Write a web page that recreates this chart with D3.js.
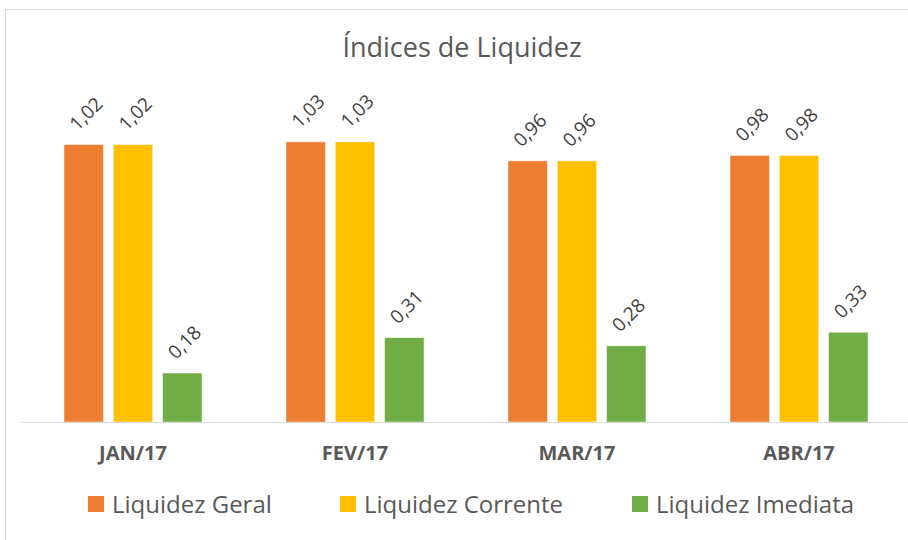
<!DOCTYPE html>
<head>
	<meta charset="UTF-8">
	<script src="https://d3js.org/d3.v7.min.js"></script>
	<title>Índices de Liquidez</title>
<style>
	body{ margin: 0; background-color: white; }
	svg{ display: block; }
	text{ font-family: 'Open Sans', sans-serif; }
</style>
</head>

<body>
	<svg width=908 height=540></svg>
</body>

<script>
	// Data
	var months = ["JAN/17", "FEV/17", "MAR/17", "ABR/17"];
	var series = ["Liquidez Geral", "Liquidez Corrente", "Liquidez Imediata"];
	var colors = ["#ed7d31", "#ffc000", "#70ad47"];
	var geral = [1.02, 1.03, 0.96, 0.98];
	var corrente = [1.02, 1.03, 0.96, 0.98];
	var imediata = [0.18, 0.31, 0.28, 0.33];
	var values = [geral, corrente, imediata];

	var svg = d3.select("svg");

	// Chart frame
	svg.append("path")
		.attr("d", "M5.5,540 V9.5 H908")
		.attr("fill", "none")
		.attr("stroke", "#d9d9d9");

	// Title
	svg.append("text")
		.attr("x", 462)
		.attr("y", 57)
		.attr("text-anchor", "middle")
		.attr("font-size", "27px")
		.attr("fill", "#595959")
		.text("Índices de Liquidez");

	// Scales
	var x = d3.scaleBand()
				.domain(months)
				.range([22, 910]);
	var xSub = d3.scaleBand()
				.domain(series)
				.range([-69, 69])
				.paddingInner(0.2);
	var y = d3.scaleLinear()
				.domain([0, 1.2])
				.range([422, 422 - 1.2 * 272]);

	// Flatten
	var bars = [];
	months.forEach(function(m, i){
		series.forEach(function(s, j){
			bars.push({month: m, series: s, value: values[j][i], color: colors[j]});
		});
	});

	// Bars
	svg.append("g")
		.selectAll("rect")
		.data(bars).enter()
		.append("rect")
		.attr("x", d => x(d.month) + x.bandwidth()/2 + xSub(d.series))
		.attr("y", d => y(d.value))
		.attr("width", xSub.bandwidth())
		.attr("height", d => y(0) - y(d.value))
		.attr("fill", d => d.color)
		.attr("stroke", "white")
		.attr("stroke-opacity", 0.6)
		.attr("stroke-width", 0.75);

	// Data labels, rotated
	svg.append("g")
		.selectAll("text")
		.data(bars).enter()
		.append("text")
		.attr("transform", function(d){
			var cx = x(d.month) + x.bandwidth()/2 + xSub(d.series) + xSub.bandwidth()/2 + 2;
			return "translate(" + cx + "," + (y(d.value) - 31) + ") rotate(-45)";
		})
		.attr("text-anchor", "middle")
		.attr("dominant-baseline", "central")
		.attr("font-size", "19px")
		.attr("fill", "#404040")
		.text(d => d.value.toFixed(2).replace(".", ","));

	// Axis
	var axis = svg.append("g")
		.attr("transform", "translate(0," + y(0) + ")")
		.call(d3.axisBottom(x).tickSize(0).tickPadding(0));
	axis.select(".domain").attr("stroke", "#d9d9d9").attr("d", "M22,0.5 H908");
	axis.selectAll(".tick text")
		.attr("y", 38)
		.attr("dy", 0)
		.attr("font-family", "'Open Sans', sans-serif")
		.attr("font-weight", "bold")
		.attr("font-size", "20px")
		.attr("fill", "#595959");

	// Legend
	var legendX = [88, 340, 632];
	var legend = svg.append("g")
		.selectAll("g")
		.data(series).enter()
		.append("g")
		.attr("transform", (d, i) => "translate(" + legendX[i] + ",496)");
	legend.append("rect")
		.attr("width", 16)
		.attr("height", 16)
		.attr("fill", (d, i) => colors[i]);
	legend.append("text")
		.attr("x", 24)
		.attr("y", 17)
		.attr("font-size", "24px")
		.attr("fill", "#595959")
		.text(d => d);
</script>
